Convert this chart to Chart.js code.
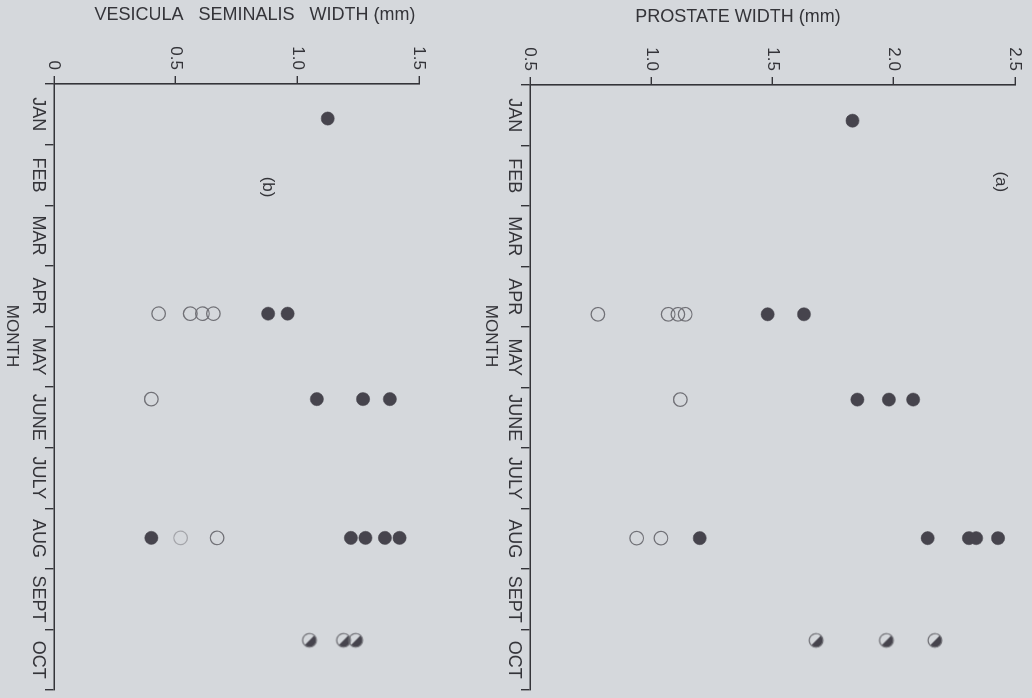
<!DOCTYPE html>
<html>
<head>
<meta charset="utf-8">
<script src="https://cdn.jsdelivr.net/npm/chart.js@4.4.1/dist/chart.umd.min.js"></script>
<style>
  html, body { margin: 0; padding: 0; background: #d5d8dc; overflow: hidden; }
  body { width: 1032px; height: 698px; position: relative; }
  /* The figure is drawn upright (months along the bottom) and turned a quarter clockwise. */
  #figure { position: absolute; left: 0; top: 0; width: 698px; height: 1032px;
            transform-origin: 0 0; transform: translateX(1032px) rotate(90deg); }
  #figure canvas { display: block; }
</style>
</head>
<body>
<div id="figure">
  <canvas id="prostateChart" width="698" height="565"></canvas>
  <canvas id="vesiculaChart" width="698" height="467"></canvas>
</div>
<script>
const MONTHS = ['JAN', 'FEB', 'MAR', 'APR', 'MAY', 'JUNE', 'JULY', 'AUG', 'SEPT', 'OCT'];

// Sampling dates, in months from 1 Jan.
const prostateFilledX = [0.59, 3.79, 3.79, 5.2, 5.2, 5.2, 7.49, 7.49, 7.49, 7.49, 7.49];
const prostateFilledY = [1.83, 1.48, 1.63, 1.85, 1.98, 2.08, 1.20, 2.14, 2.31, 2.34, 2.43];
const prostateOpenX = [3.79, 3.79, 3.79, 3.79, 5.2, 7.49, 7.49];
const prostateOpenY = [0.78, 1.07, 1.11, 1.14, 1.12, 0.94, 1.04];
const prostateHalfX = [9.18, 9.18, 9.18];
const prostateHalfY = [1.68, 1.97, 2.17];

const vesiculaFilledX = [0.57, 3.79, 3.79, 5.2, 5.2, 5.2, 7.49, 7.49, 7.49, 7.49, 7.49];
const vesiculaFilledY = [1.125, 0.88, 0.96, 1.08, 1.27, 1.38, 0.40, 1.22, 1.28, 1.36, 1.42];
const vesiculaOpenX = [3.79, 3.79, 3.79, 3.79, 5.2, 7.49, 7.49];
const vesiculaOpenY = [0.43, 0.56, 0.61, 0.655, 0.40, 0.52, 0.67];
const vesiculaHalfX = [9.18, 9.18, 9.18];
const vesiculaHalfY = [1.05, 1.19, 1.24];

const INK = '#343439';
const DOT = '#46444d';
const RING = '#707076';
const FONT = '"Liberation Sans", Arial, sans-serif';

const zip = (xs, ys) => xs.map((x, i) => ({ x, y: ys[i] }));

function halfMarker(r) {
    const s = Math.ceil(2 * r + 4);
    const c = document.createElement('canvas');
    c.width = c.height = s;
    const g = c.getContext('2d');
    const m = s / 2;
    g.beginPath();
    g.arc(m, m, r, -3 * Math.PI / 4, Math.PI / 4);
    g.closePath();
    g.fillStyle = DOT;
    g.fill();
    g.beginPath();
    g.arc(m, m, r, 0, 2 * Math.PI);
    g.strokeStyle = RING;
    g.lineWidth = 1.2;
    g.stroke();
    return c;
}
const HALF = halfMarker(6.8);

// Axis titles and panel letters are placed by hand, as in the print.
const figText = {
    id: 'figText',
    afterDraw(chart, args, o) {
        const { ctx } = chart;
        const x = chart.scales.x, y = chart.scales.y;
        ctx.save();
        ctx.fillStyle = INK;
        ctx.textAlign = 'center';
        ctx.textBaseline = 'middle';
        ctx.font = '18px ' + FONT;
        ctx.save();
        ctx.translate(o.titleU, o.titleV);
        ctx.rotate(-Math.PI / 2);
        ctx.fillText(o.title, 0, 0);
        ctx.restore();
        ctx.font = '17px ' + FONT;
        ctx.fillText('MONTH', o.monthU, o.monthV);
        ctx.fillText(o.label, x.getPixelForValue(o.labelAt[0]), y.getPixelForValue(o.labelAt[1]));
        ctx.restore();
    },
};

function makePanel(id, p) {
    new Chart(document.getElementById(id), {
        type: 'scatter',
        data: {
            datasets: [
                { data: zip(p.openX, p.openY), pointRadius: 6.8, pointBorderWidth: 1.2,
                  pointBorderColor: p.openColors, pointBackgroundColor: 'rgba(0,0,0,0)' },
                { data: zip(p.filledX, p.filledY), pointRadius: 6.6, pointBorderWidth: 0.5,
                  pointBorderColor: DOT, pointBackgroundColor: DOT },
                { data: zip(p.halfX, p.halfY), pointStyle: HALF },
            ],
        },
        options: {
            responsive: false,
            animation: false,
            devicePixelRatio: 1,
            layout: { padding: p.padding },
            plugins: {
                legend: { display: false },
                tooltip: { enabled: false },
                figText: p.text,
            },
            scales: {
                x: {
                    type: 'linear', min: 0, max: 10,
                    afterFit: (s) => { s.height = p.xHeight; },
                    border: { display: true, color: INK, width: 1.6 },
                    grid: {
                        drawOnChartArea: false, tickLength: 9, lineWidth: 1.4,
                        color: (c) => Number.isInteger(c.tick.value) ? INK : 'rgba(0,0,0,0)',
                    },
                    ticks: {
                        stepSize: 0.5, autoSkip: false, maxRotation: 0, padding: -4,
                        color: INK, font: { family: FONT, size: 18 },
                        callback: (v) => Number.isInteger(v) ? '' : MONTHS[Math.floor(v)],
                    },
                },
                y: {
                    min: p.yMin, max: p.yMax,
                    afterFit: (s) => { s.width = p.yWidth; },
                    border: { display: true, color: INK, width: 1.6 },
                    grid: { drawOnChartArea: false, tickLength: 8, lineWidth: 1.4, color: INK },
                    ticks: {
                        stepSize: 0.5, padding: 6,
                        color: INK, font: { family: FONT, size: 17 },
                        callback: (v) => v === 0 ? '0' : v.toFixed(1),
                    },
                },
            },
        },
        plugins: [figText],
    });
}

makePanel('prostateChart', {
    filledX: prostateFilledX, filledY: prostateFilledY,
    openX: prostateOpenX, openY: prostateOpenY,
    halfX: prostateHalfX, halfY: prostateHalfY,
    openColors: RING,
    yMin: 0.5, yMax: 2.5,
    padding: { top: 17, right: 5, left: 0, bottom: 0 },
    yWidth: 85, xHeight: 63,
    text: { title: 'PROSTATE WIDTH (mm)', titleU: 17, titleV: 294,
            monthU: 336, monthV: 541, label: '(a)', labelAt: [1.6, 2.44] },
});

makePanel('vesiculaChart', {
    filledX: vesiculaFilledX, filledY: vesiculaFilledY,
    openX: vesiculaOpenX, openY: vesiculaOpenY,
    halfX: vesiculaHalfX, halfY: vesiculaHalfY,
    openColors: [RING, RING, RING, RING, RING, '#a4a5aa', RING],
    yMin: 0, yMax: 1.5,
    padding: { top: 48, right: 5, left: 0, bottom: 0 },
    yWidth: 84, xHeight: 54,
    text: { title: 'VESICULA   SEMINALIS   WIDTH (mm)', titleU: 15, titleV: 212,
            monthU: 336, monthV: 455, label: '(b)', labelAt: [1.7, 0.88] },
});
</script>
</body>
</html>
